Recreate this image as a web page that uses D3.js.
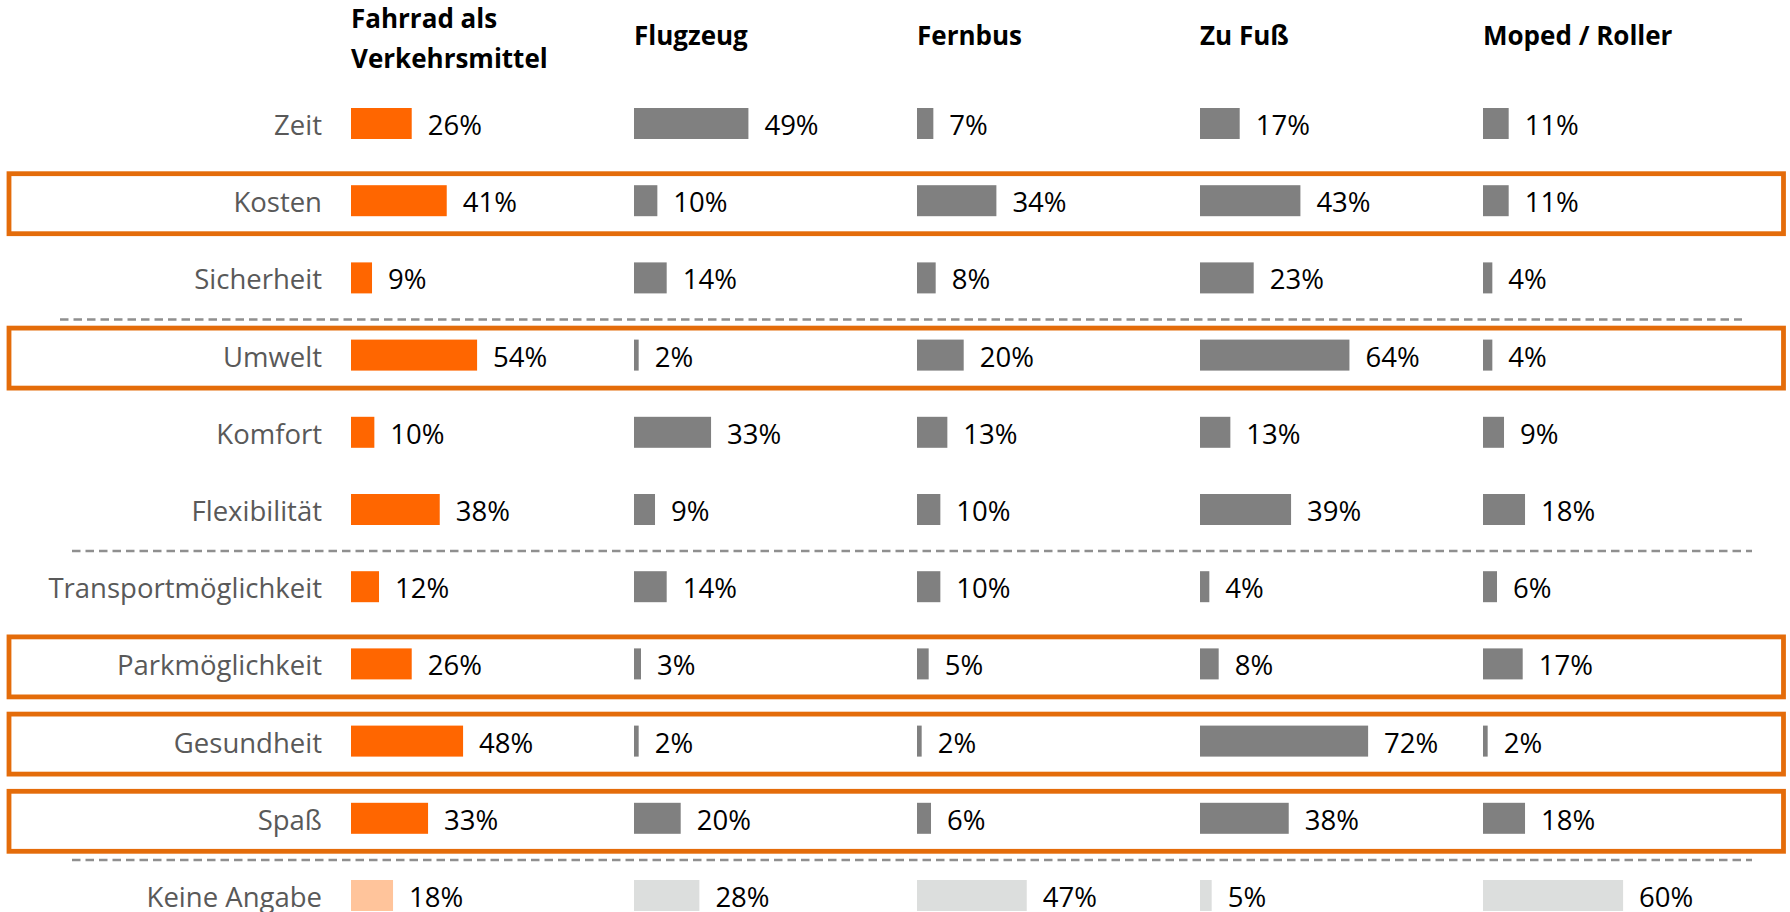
<!DOCTYPE html>
<html>
<head>
<meta charset="utf-8">
<script src="https://cdn.jsdelivr.net/npm/d3@7"></script>
<style>
  body { margin: 0; background: #fff; overflow: hidden; }
  svg { display: block; font-family: "Open Sans", sans-serif; }
</style>
</head>
<body>
<svg id="chart" width="1790" height="912"></svg>
<script>
// Gründe je Verkehrsmittel (in %)
const categories = ["Zeit", "Kosten", "Sicherheit", "Umwelt", "Komfort", "Flexibilität",
  "Transportmöglichkeit", "Parkmöglichkeit", "Gesundheit", "Spaß", "Keine Angabe"];
const modes = ["Fahrrad als Verkehrsmittel", "Flugzeug", "Fernbus", "Zu Fuß", "Moped / Roller"];
const headerLines = [["Fahrrad als", "Verkehrsmittel"], ["Flugzeug"], ["Fernbus"], ["Zu Fuß"], ["Moped / Roller"]];

const fahrrad  = [26, 41, 9, 54, 10, 38, 12, 26, 48, 33, 18];
const flugzeug = [49, 10, 14, 2, 33, 9, 14, 3, 2, 20, 28];
const fernbus  = [7, 34, 8, 20, 13, 10, 10, 5, 2, 6, 47];
const zuFuss   = [17, 43, 23, 64, 13, 39, 4, 8, 72, 38, 5];
const moped    = [11, 11, 4, 4, 9, 18, 6, 17, 2, 18, 60];

const highlighted = ["Kosten", "Umwelt", "Parkmöglichkeit", "Gesundheit", "Spaß"];
const separatorsAfter = ["Sicherheit", "Flexibilität", "Spaß"];
const noAnswer = "Keine Angabe";

const series = [fahrrad, flugzeug, fernbus, zuFuss, moped];

const svg = d3.select("#chart");

const y = d3.scalePoint().domain(categories).range([123.5, 895.5]);
const col = d3.scaleBand().domain(modes).range([351, 351 + 5 * 283]);
const w = d3.scaleLinear().domain([0, 100]).range([0, 233.5]);
const barH = 31;
const step = y.step();

function barColor(modeIdx, cat) {
  if (cat === noAnswer) return modeIdx === 0 ? "#ffc49b" : "#dcdedd";
  return modeIdx === 0 ? "#ff6600" : "#808080";
}

// dashed separators
separatorsAfter.forEach((c, i) => {
  const x0 = i === 0 ? 60 : 72;
  const x1 = i === 0 ? 1742 : 1752;
  svg.append("line")
    .attr("x1", x0).attr("x2", x1)
    .attr("y1", y(c) + step / 2 + 3).attr("y2", y(c) + step / 2 + 3)
    .attr("stroke", "#8f8f8f")
    .attr("stroke-width", 2.5)
    .attr("stroke-dasharray", "8.5,5");
});

// highlight boxes
highlighted.forEach(c => {
  svg.append("rect")
    .attr("x", 9).attr("y", y(c) + 3 - 30)
    .attr("width", 1774.5).attr("height", 60)
    .attr("fill", "none")
    .attr("stroke", "#e46c0a")
    .attr("stroke-width", 4.8);
});

// headers
headerLines.forEach((lines, i) => {
  const t = svg.append("text")
    .attr("x", col(modes[i]))
    .attr("font-size", 26)
    .attr("font-weight", "bold")
    .attr("fill", "#000");
  lines.forEach((l, j) => {
    const base = lines.length === 1 ? 45 : 28 + j * 40;
    t.append("tspan").attr("x", col(modes[i])).attr("y", base).text(l);
  });
});

// row labels
categories.forEach(c => {
  svg.append("text")
    .attr("x", 322)
    .attr("y", y(c) + 11.5)
    .attr("text-anchor", "end")
    .attr("font-size", 27.5)
    .attr("fill", "#595959")
    .text(c);
});

// bars + values
series.forEach((vals, m) => {
  const x0 = col(modes[m]);
  vals.forEach((v, k) => {
    const c = categories[k];
    svg.append("rect")
      .attr("x", x0)
      .attr("y", y(c) - barH / 2)
      .attr("width", w(v))
      .attr("height", barH)
      .attr("fill", barColor(m, c));
    svg.append("text")
      .attr("x", x0 + w(v) + 16)
      .attr("y", y(c) + 11.5)
      .attr("font-size", 27.5)
      .attr("fill", "#000")
      .text(v + "%");
  });
});
</script>
</body>
</html>
